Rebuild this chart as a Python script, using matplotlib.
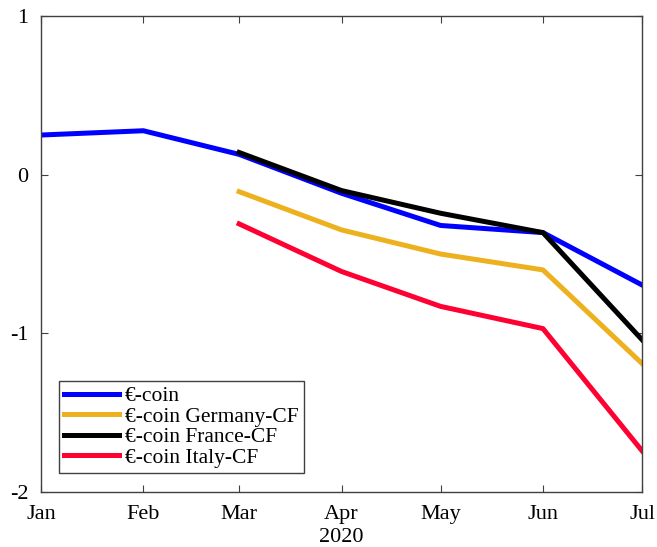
import datetime as dt
import matplotlib
matplotlib.use("Agg")
import matplotlib.pyplot as plt

# monthly values (2020)
months = [dt.date(2020, m, 1) for m in range(1, 8)]
month_labels = ["Jan", "Feb", "Mar", "Apr\n2020", "May", "Jun", "Jul"]
months_cf = months[2:]
ecoin = [0.25, 0.277, 0.128, -0.117, -0.32, -0.365, -0.695]
germany_cf = [-0.107, -0.348, -0.50, -0.60, -1.19]
france_cf = [0.14, -0.10, -0.243, -0.365, -1.04]
italy_cf = [-0.31, -0.61, -0.83, -0.97, -1.74]

labels = ["€-coin", "€-coin Germany-CF", "€-coin France-CF", "€-coin Italy-CF"]
colors = ["#0000ff", "#edb120", "#000000", "#ff0033"]

plt.rcParams["font.family"] = ["Liberation Serif", "DejaVu Serif"]

fig = plt.figure(figsize=(6.57, 5.47), dpi=100)
ax = fig.add_axes([0.0624, 0.1005, 0.9148, 0.8702])

ax.plot(months, ecoin, color=colors[0], lw=3.6, label=labels[0])
ax.plot(months_cf, germany_cf, color=colors[1], lw=3.6, label=labels[1])
ax.plot(months_cf, france_cf, color=colors[2], lw=3.6, label=labels[2])
ax.plot(months_cf, italy_cf, color=colors[3], lw=3.6, label=labels[3])

ax.set_xlim(months[0], months[-1])
ax.set_ylim(-2, 1)
ax.set_yticks([-2, -1, 0, 1])
ax.set_yticklabels(["-2", "-1", "0", "1"])
ax.set_xticks(months)
ax.set_xticklabels(month_labels, linespacing=1.35)

for s in ax.spines.values():
    s.set_color("#404040")
    s.set_linewidth(1.0)
ax.tick_params(direction="in", length=5, width=0.8, color="#404040",
               labelsize=16, top=True, right=True)
ax.tick_params(axis="x", pad=9)
ax.tick_params(axis="y", pad=9)

leg = ax.legend(loc="lower left", bbox_to_anchor=(0.03, 0.04), borderaxespad=0,
                fontsize=15.5, handlelength=2.55, handletextpad=0.25,
                labelspacing=0.02, borderpad=0.25, fancybox=False, framealpha=1)
leg.get_frame().set_edgecolor("#404040")
leg.get_frame().set_linewidth(1.0)

fig.savefig("out.png", dpi=100)
